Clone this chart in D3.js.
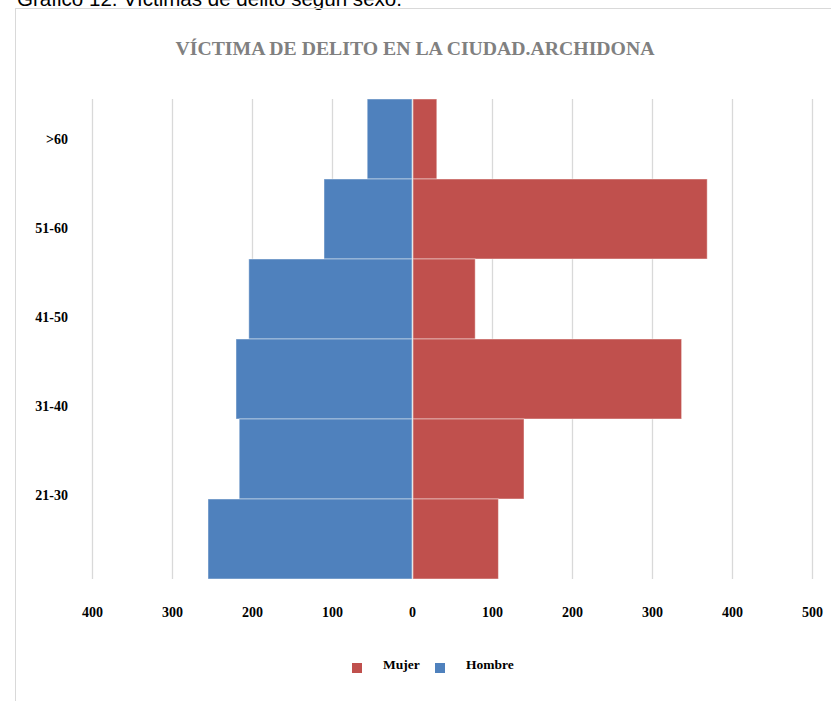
<!DOCTYPE html>
<html>
<head>
<meta charset="utf-8">
<script src="https://cdn.jsdelivr.net/npm/d3@7"></script>
<style>
  body { margin: 0; background: #fff; }
  svg text { font-family: "Liberation Serif", "DejaVu Serif", serif; font-weight: bold; }
</style>
</head>
<body>
<div id="chart"></div>
<script>
// data
var ageLabels = [">60", "51-60", "41-50", "31-40", "21-30"];
var barSlots = [0, 1, 2, 3, 4, 5];              // six bars, top to bottom
var hombre = [56, 110, 204, 220, 216, 255];
var mujer = [31, 369, 79, 337, 140, 108];
var tickValues = [-400, -300, -200, -100, 0, 100, 200, 300, 400, 500];
var series = ["Mujer", "Hombre"];
var colors = { Mujer: "#C0504D", Hombre: "#4F81BD" };

var W = 831, H = 701;

var svg = d3.select("#chart")
  .append("svg")
  .attr("width", W)
  .attr("height", H);

// caption of the page, cut by the top edge as in the source
svg.append("text")
  .attr("x", 17)
  .attr("y", 6)
  .attr("textLength", 385)
  .attr("lengthAdjust", "spacingAndGlyphs")
  .style("font-family", "'Liberation Sans', sans-serif")
  .style("font-weight", "normal")
  .style("font-size", "21px")
  .attr("fill", "#000")
  .text("Gráfico 12. Víctimas de delito según sexo.");

// chart frame
svg.append("rect")
  .attr("x", 15.5)
  .attr("y", 8.5)
  .attr("width", 830)
  .attr("height", 700)
  .attr("fill", "none")
  .attr("stroke", "#d9d9d9");

// title
svg.append("text")
  .attr("x", 415)
  .attr("y", 55)
  .attr("text-anchor", "middle")
  .attr("fill", "#808080")
  .style("font-size", "18px")
  .attr("textLength", 479)
  .attr("lengthAdjust", "spacingAndGlyphs")
  .text("VÍCTIMA DE DELITO EN LA CIUDAD.ARCHIDONA");

var plotTop = 99, plotBottom = 579;

var x = d3.scaleLinear()
  .domain([-400, 500])
  .range([92, 812]);

var y = d3.scaleBand()
  .domain(barSlots)
  .range([plotTop, plotBottom])
  .padding(0);

var yLab = d3.scalePoint()
  .domain(ageLabels)
  .range([139, 495]);

// gridlines
var grid = svg.append("g")
  .attr("transform", "translate(0," + plotBottom + ")")
  .call(d3.axisBottom(x).tickValues(tickValues).tickSize(-(plotBottom - plotTop)).tickFormat(""));
grid.select(".domain").remove();
grid.selectAll("line").attr("stroke", "#d9d9d9").attr("stroke-width", 1.3);

// bars
svg.selectAll(".hombre")
  .data(hombre)
  .enter()
  .append("rect")
  .attr("class", "hombre")
  .attr("x", function(d) { return x(-d); })
  .attr("y", function(d, i) { return y(barSlots[i]); })
  .attr("width", function(d) { return x(0) - x(-d); })
  .attr("height", y.bandwidth())
  .attr("fill", colors.Hombre)
  .attr("stroke", "rgba(255,255,255,0.45)")
  .attr("stroke-width", 1);

svg.selectAll(".mujer")
  .data(mujer)
  .enter()
  .append("rect")
  .attr("class", "mujer")
  .attr("x", x(0) + 1)
  .attr("y", function(d, i) { return y(barSlots[i]); })
  .attr("width", function(d) { return x(d) - x(0) - 1; })
  .attr("height", y.bandwidth())
  .attr("fill", colors.Mujer)
  .attr("stroke", "rgba(255,255,255,0.45)")
  .attr("stroke-width", 1);

// x axis labels
var xAxis = svg.append("g")
  .attr("transform", "translate(0,604)")
  .call(d3.axisBottom(x).tickValues(tickValues).tickSize(0)
    .tickFormat(function(d) { return Math.abs(d); }));
xAxis.select(".domain").remove();
xAxis.selectAll("text")
  .attr("fill", "#000")
  .style("font-size", "14px");

// y labels
var yAxis = svg.append("g")
  .attr("transform", "translate(68,0)")
  .call(d3.axisLeft(yLab).tickSize(0).tickPadding(0));
yAxis.select(".domain").remove();
yAxis.selectAll("text")
  .attr("fill", "#000")
  .style("font-size", "14px");

// legend
var legend = svg.append("g").attr("transform", "translate(352,663)");
var lx = d3.scaleOrdinal().domain(series).range([0, 83]);
var item = legend.selectAll("g")
  .data(series)
  .enter()
  .append("g")
  .attr("transform", function(d) { return "translate(" + lx(d) + ",0)"; });
item.append("rect")
  .attr("width", 10)
  .attr("height", 10)
  .attr("fill", function(d) { return colors[d]; });
item.append("text")
  .attr("x", 31)
  .attr("y", 6)
  .attr("fill", "#000")
  .style("font-size", "13.5px")
  .text(function(d) { return d; });
</script>
</body>
</html>
